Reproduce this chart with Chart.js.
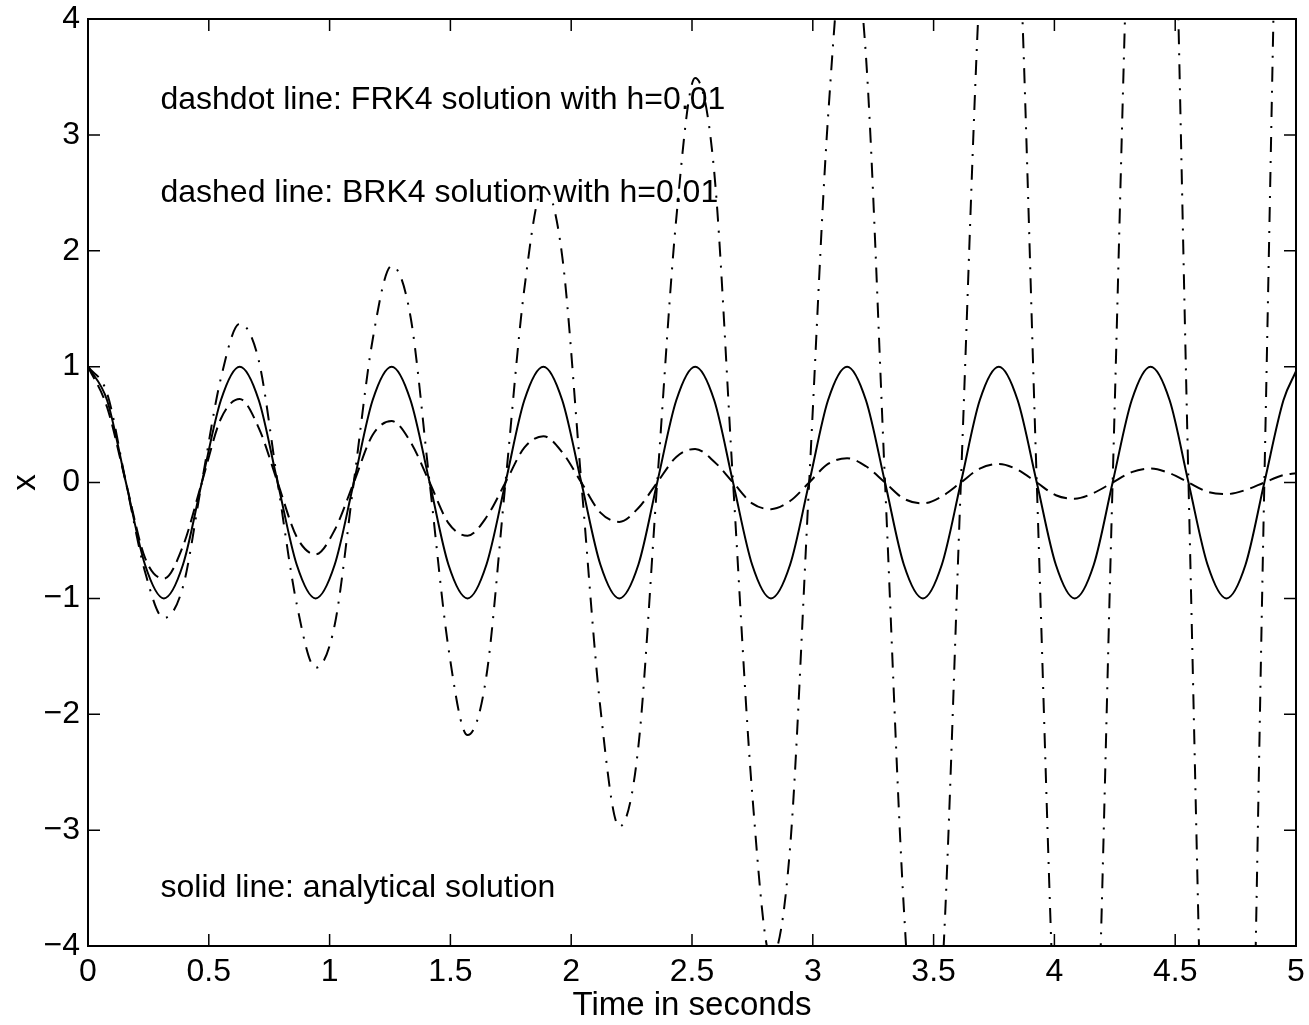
<!DOCTYPE html>
<html>
<head>
<meta charset="utf-8">
<script src="https://cdn.jsdelivr.net/npm/chart.js@4.4.0/dist/chart.umd.min.js"></script>
<style>
    html, body { margin: 0; padding: 0; background: #fff; }
</style>
</head>
<body>
<canvas id="graficoRK4" width="1309" height="1025"></canvas>
<script>
// tempo (s), passos de 1/8 de periodo
var tempo = [
    0, 0.079, 0.157, 0.236, 0.314, 0.393, 0.471, 0.550,
    0.628, 0.707, 0.785, 0.864, 0.942, 1.021, 1.100, 1.178,
    1.257, 1.335, 1.414, 1.492, 1.571, 1.649, 1.728, 1.806,
    1.885, 1.963, 2.042, 2.121, 2.199, 2.278, 2.356, 2.435,
    2.513, 2.592, 2.670, 2.749, 2.827, 2.906, 2.985, 3.063,
    3.142, 3.220, 3.299, 3.377, 3.456, 3.534, 3.613, 3.691,
    3.770, 3.848, 3.927, 4.006, 4.084, 4.163, 4.241, 4.320,
    4.398, 4.477, 4.555, 4.634, 4.712, 4.791, 4.869, 4.948,
    5.0
];

var solAnalitica = [
    1, 0.71, 0, -0.71, -1, -0.71, 0, 0.71,
    1, 0.71, 0, -0.71, -1, -0.71, 0, 0.71,
    1, 0.71, 0, -0.71, -1, -0.71, 0, 0.71,
    1, 0.71, 0, -0.71, -1, -0.71, 0, 0.71,
    1, 0.71, 0, -0.71, -1, -0.71, 0, 0.71,
    1, 0.71, 0, -0.71, -1, -0.71, 0, 0.71,
    1, 0.71, 0, -0.71, -1, -0.71, 0, 0.71,
    1, 0.71, 0, -0.71, -1, -0.71, 0, 0.71,
    0.96
];

var solBRK4 = [
    1, 0.65, 0, -0.65, -0.83, -0.55, 0, 0.55,
    0.72, 0.47, 0, -0.47, -0.62, -0.41, 0, 0.41,
    0.53, 0.35, 0, -0.35, -0.46, -0.30, 0, 0.30,
    0.40, 0.26, 0, -0.26, -0.34, -0.22, 0, 0.22,
    0.29, 0.18, 0, -0.18, -0.23, -0.16, 0, 0.16,
    0.21, 0.14, 0, -0.14, -0.18, -0.12, 0, 0.12,
    0.16, 0.11, 0, -0.11, -0.14, -0.09, 0, 0.09,
    0.12, 0.08, 0, -0.08, -0.10, -0.065, 0, 0.065,
    0.08
];

var solFRK4 = [
    1, 0.77, 0, -0.77, -1.17, -0.90, 0, 0.90,
    1.37, 1.05, 0, -1.05, -1.60, -1.23, 0, 1.23,
    1.87, 1.43, 0, -1.43, -2.18, -1.67, 0, 1.67,
    2.55, 1.95, 0, -1.95, -2.97, -2.28, 0, 2.28,
    3.49, 2.68, 0, -2.68, -4.10, -3.15, 0, 3.15,
    4.80, 3.68, 0, -3.68, -5.60, -4.30, 0, 4.30,
    6.55, 5.02, 0, -5.02, -7.65, -5.87, 0, 5.87,
    8.95, 6.88, 0, -6.88, -10.5, -8.06, 0, 8.06,
    11.5
];

var ticksX = [0, 0.5, 1, 1.5, 2, 2.5, 3, 3.5, 4, 4.5, 5];
var ticksY = [-4, -3, -2, -1, 0, 1, 2, 3, 4];

var notas = [
    { x: 0.3, y: 3.3, texto: 'dashdot line: FRK4 solution with h=0.01' },
    { x: 0.3, y: 2.5, texto: 'dashed line: BRK4 solution with h=0.01' },
    { x: 0.3, y: -3.5, texto: 'solid line: analytical solution' }
];

var fonte = '"Liberation Sans", Arial, Helvetica, sans-serif';

function pares(ys) {
    return tempo.map(function (t, i) { return { x: t, y: ys[i] }; });
}

var ctxRK4 = document.getElementById('graficoRK4').getContext('2d');

var dataRK4 = {
    datasets: [{
        label: 'analytical',
        data: pares(solAnalitica),
        borderColor: '#000',
        borderWidth: 2
    }, {
        label: 'BRK4',
        data: pares(solBRK4),
        borderColor: '#000',
        borderWidth: 2,
        borderDash: [14, 7]
    }, {
        label: 'FRK4',
        data: pares(solFRK4),
        borderColor: '#000',
        borderWidth: 2,
        borderDash: [15, 9, 2, 9]
    }]
};

// moldura, ticks para dentro e textos
var molduraPlugin = {
    id: 'moldura',
    beforeDatasetsDraw: function (chart) {
        var ctx = chart.ctx, sx = chart.scales.x, sy = chart.scales.y;
        ctx.save();
        ctx.font = '32px ' + fonte;
        ctx.fillStyle = '#000';
        ctx.textAlign = 'left';
        ctx.textBaseline = 'middle';
        notas.forEach(function (n) {
            ctx.fillText(n.texto, sx.getPixelForValue(n.x), sy.getPixelForValue(n.y));
        });
        ctx.restore();
    },
    afterDatasetsDraw: function (chart) {
        var ctx = chart.ctx, a = chart.chartArea, sx = chart.scales.x, sy = chart.scales.y;
        ctx.save();
        ctx.strokeStyle = '#000';
        ctx.lineWidth = 2;
        ctx.strokeRect(a.left, a.top, a.right - a.left, a.bottom - a.top);
        ctx.lineWidth = 1.5;
        ctx.beginPath();
        ticksX.forEach(function (v) {
            var px = sx.getPixelForValue(v);
            ctx.moveTo(px, a.bottom); ctx.lineTo(px, a.bottom - 12);
            ctx.moveTo(px, a.top); ctx.lineTo(px, a.top + 12);
        });
        ticksY.forEach(function (v) {
            var py = sy.getPixelForValue(v);
            ctx.moveTo(a.left, py); ctx.lineTo(a.left + 12, py);
            ctx.moveTo(a.right, py); ctx.lineTo(a.right - 12, py);
        });
        ctx.stroke();
        ctx.restore();
    }
};

function rotulo(v) {
    return String(v).replace('-', '\u2212');
}

var optionsRK4 = {
    responsive: false,
    animation: false,
    devicePixelRatio: 1,
    layout: { padding: { top: 19, right: 13, left: 0, bottom: 0 } },
    elements: {
        point: { radius: 0 },
        line: { cubicInterpolationMode: 'monotone', fill: false }
    },
    scales: {
        x: {
            type: 'linear',
            min: 0,
            max: 5,
            grid: { display: false, drawTicks: false },
            border: { display: false },
            afterBuildTicks: function (s) { s.ticks = ticksX.map(function (v) { return { value: v }; }); },
            afterFit: function (s) {
                s.height = 79;
                s.paddingLeft = 0;
                s.paddingRight = 0;
            },
            ticks: {
                color: '#000',
                font: { family: fonte, size: 32, lineHeight: 1 },
                padding: 10,
                maxRotation: 0,
                autoSkip: false,
                callback: rotulo
            },
            title: {
                display: true,
                text: 'Time in seconds',
                color: '#000',
                font: { family: fonte, size: 33, lineHeight: 1 },
                padding: { top: 0, bottom: 3 }
            }
        },
        y: {
            type: 'linear',
            min: -4,
            max: 4,
            grid: { display: false, drawTicks: false },
            border: { display: false },
            afterBuildTicks: function (s) { s.ticks = ticksY.map(function (v) { return { value: v }; }); },
            afterFit: function (s) {
                s.width = 88;
                s.paddingTop = 0;
                s.paddingBottom = 0;
            },
            ticks: {
                color: '#000',
                font: { family: fonte, size: 32, lineHeight: 1 },
                padding: 8,
                autoSkip: false,
                callback: rotulo
            },
            title: {
                display: true,
                text: 'x',
                color: '#000',
                font: { family: fonte, size: 33 },
                padding: { top: 6, bottom: 0 }
            }
        }
    },
    plugins: {
        legend: { display: false },
        tooltip: { enabled: false }
    }
};

var graficoRK4 = new Chart(ctxRK4, {
    type: 'line',
    data: dataRK4,
    options: optionsRK4,
    plugins: [molduraPlugin]
});
</script>
</body>
</html>
